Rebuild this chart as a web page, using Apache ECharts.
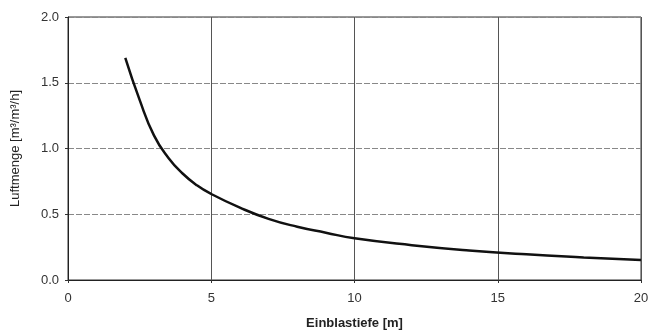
<!DOCTYPE html>
<html>
<head>
<meta charset="utf-8">
<script src="https://cdn.jsdelivr.net/npm/echarts@6/dist/echarts.min.js"></script>
<style>
  html, body { margin: 0; padding: 0; background: #fff; }
  #chart { width: 648px; height: 334px; }
</style>
</head>
<body>
<div id="chart"></div>
<script>
// Einblastiefe [m] vs. Luftmenge
var depth = [2, 2.5, 3, 3.5, 4, 4.5, 5, 6, 7, 8, 9, 10, 12, 14, 16, 18, 20]
var airflow = [1.69, 1.37, 1.10, 0.93, 0.81, 0.72, 0.654, 0.55, 0.465, 0.405, 0.36, 0.317, 0.265, 0.225, 0.195, 0.172, 0.152]
var xTicks = [0, 5, 10, 15, 20]
var yTicks = [0, 0.5, 1.0, 1.5, 2.0]

var chart = echarts.init(document.getElementById('chart'))
var points = depth.map(function (d, i) {
  return [d, airflow[i]]
})

var option = {
  animation: false,
  textStyle: { fontFamily: 'Liberation Sans, Arial, sans-serif' },
  grid: {
    left: 68,
    right: 7,
    top: 17,
    bottom: 54,
    outerBoundsMode: 'none',
    containLabel: false,
    show: true,
    borderColor: '#333',
    borderWidth: 1
  },
  xAxis: {
    type: 'value',
    min: xTicks[0],
    max: xTicks[xTicks.length - 1],
    interval: 5,
    name: 'Einblastiefe [m]',
    nameLocation: 'middle',
    nameGap: 37,
    nameTextStyle: { fontSize: 13, fontWeight: 'bold', color: '#222' },
    axisLine: { lineStyle: { color: '#222' } },
    axisTick: { show: true, length: 3, lineStyle: { color: '#333' } },
    axisLabel: { fontSize: 13, color: '#333', margin: 12 },
    splitLine: { show: true, lineStyle: { color: '#555', width: 1 } }
  },
  yAxis: {
    type: 'value',
    min: yTicks[0],
    max: yTicks[yTicks.length - 1],
    interval: 0.5,
    name: 'Luftmenge [m³/m³/h]',
    nameLocation: 'middle',
    nameGap: 46,
    nameTextStyle: { fontSize: 13, color: '#222' },
    axisLine: { show: true, lineStyle: { color: '#222' } },
    axisTick: { show: true, length: 3, lineStyle: { color: '#333' } },
    axisLabel: {
      fontSize: 13,
      color: '#333',
      margin: 9,
      formatter: function (v) { return v.toFixed(1) }
    },
    splitLine: { show: true, lineStyle: { color: '#888', width: 1, type: [6, 2] } }
  },
  series: [{
    type: 'line',
    data: points,
    smooth: 0.5,
    showSymbol: false,
    lineStyle: { color: '#111', width: 2.5 }
  }]
}

option && chart.setOption(option)
</script>
</body>
</html>
